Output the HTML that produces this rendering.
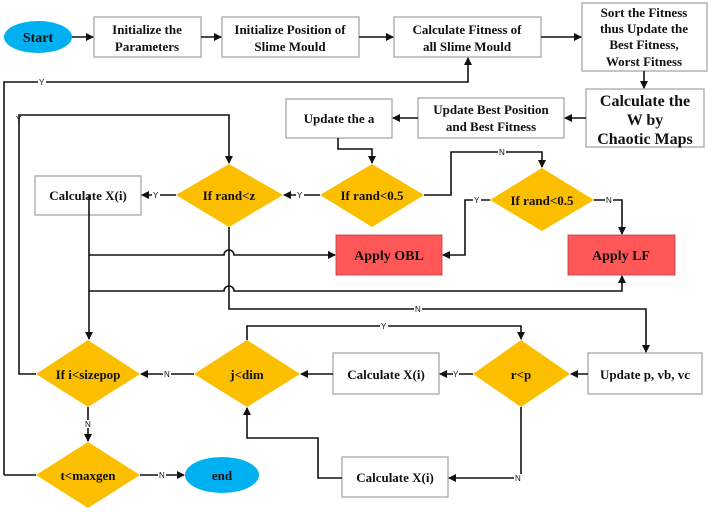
<!DOCTYPE html>
<html><head><meta charset="utf-8"><style>
html,body{margin:0;padding:0;background:#fff}
svg{display:block}
text{font-family:"Liberation Serif",serif;font-weight:bold;fill:#111}
.b{fill:#fff;stroke:#a0a0a0;stroke-width:1.2}
.d{fill:#fcbf00;stroke:none}
.l{fill:none;stroke:#111;stroke-width:1.6}
.s{font-family:"Liberation Sans",sans-serif;font-size:8px;font-weight:normal}
</style></head><body>
<svg width="708" height="512" viewBox="0 0 708 512" xmlns="http://www.w3.org/2000/svg">
<defs><marker id="a" markerWidth="8" markerHeight="8" refX="7" refY="4" orient="auto" markerUnits="userSpaceOnUse"><path d="M0,0 L8,4 L0,8 z" fill="#111"/></marker></defs>

<!-- shapes -->
<ellipse cx="38" cy="37" rx="34" ry="16" fill="#00b0f0"/>
<rect class="b" x="94" y="17" width="107" height="40"/>
<rect class="b" x="222" y="17" width="137" height="40"/>
<rect class="b" x="394" y="17" width="147" height="40"/>
<rect class="b" x="582" y="3" width="125" height="68"/>
<rect class="b" x="586" y="89" width="118" height="58"/>
<rect class="b" x="418" y="98" width="146" height="40"/>
<rect class="b" x="286" y="99" width="106" height="39"/>
<rect class="b" x="35" y="176" width="106" height="39"/>
<polygon class="d" points="229,164 283,195 229,227 176,195"/>
<polygon class="d" points="372,164 424,195 372,227 320,195"/>
<polygon class="d" points="542,168 594,200 542,231 490,200"/>
<rect x="336" y="235" width="106" height="40" fill="#ff5757" stroke="#b04040" stroke-width="0.8"/>
<rect x="568" y="235" width="107" height="40" fill="#ff5757" stroke="#b04040" stroke-width="0.8"/>
<polygon class="d" points="88,340 140,374 88,407 36,374"/>
<polygon class="d" points="247,340 300,374 247,407 194,374"/>
<rect class="b" x="333" y="353" width="106" height="41"/>
<polygon class="d" points="521,340 570,374 521,407 473,374"/>
<rect class="b" x="588" y="353" width="114" height="41"/>
<rect class="b" x="342" y="457" width="106" height="40"/>
<polygon class="d" points="88,442 140,475 88,508 36,475"/>
<ellipse cx="222" cy="475" rx="37" ry="18" fill="#00b0f0"/>

<!-- connectors -->
<path class="l" d="M72,37 H93" marker-end="url(#a)"/>
<path class="l" d="M201,37 H221" marker-end="url(#a)"/>
<path class="l" d="M359,37 H393" marker-end="url(#a)"/>
<path class="l" d="M541,37 H581" marker-end="url(#a)"/>
<path class="l" d="M644,71 V88" marker-end="url(#a)"/>
<path class="l" d="M586,118 H565" marker-end="url(#a)"/>
<path class="l" d="M418,118 H393" marker-end="url(#a)"/>
<path class="l" d="M338,138 V149 H372 V163" marker-end="url(#a)"/>
<path class="l" d="M320,195 H284" marker-end="url(#a)"/>
<path class="l" d="M176,195 H142" marker-end="url(#a)"/>
<path class="l" d="M424,195 H451 V152 H542 V167" marker-end="url(#a)"/>
<path class="l" d="M490,200 H465 V255 H443" marker-end="url(#a)"/>
<path class="l" d="M594,200 H622 V234" marker-end="url(#a)"/>
<path class="l" d="M4,475 H36 M4,475 V82 H468 V58" marker-end="url(#a)"/>
<path class="l" d="M36,374 H19 V115 H229 V163" marker-end="url(#a)"/>
<path class="l" d="M229,227 V309 H646 V352" marker-end="url(#a)"/>
<path class="l" d="M89,195 V339" marker-end="url(#a)"/>
<path class="l" d="M89,255 H224 A5,5 0 0 1 234,255 H335" marker-end="url(#a)"/>
<path class="l" d="M89,291 H224 A5,5 0 0 1 234,291 H622 V276" marker-end="url(#a)"/>
<path class="l" d="M588,374 H571" marker-end="url(#a)"/>
<path class="l" d="M473,374 H440" marker-end="url(#a)"/>
<path class="l" d="M333,374 H301" marker-end="url(#a)"/>
<path class="l" d="M194,374 H141" marker-end="url(#a)"/>
<path class="l" d="M247,340 V326 H521 V339" marker-end="url(#a)"/>
<path class="l" d="M521,407 V478 H449" marker-end="url(#a)"/>
<path class="l" d="M342,478 H318 V438 H247 V408" marker-end="url(#a)"/>
<path class="l" d="M88,407 V441" marker-end="url(#a)"/>
<path class="l" d="M140,475 H184" marker-end="url(#a)"/>

<!-- labels on lines -->
<g class="s">
<rect x="38" y="78" width="8" height="8" fill="#fff"/><text class="s" x="39" y="85">Y</text>
<text class="s" x="16" y="122">Y</text>
<rect x="152" y="191" width="8" height="8" fill="#fff"/><text class="s" x="153" y="198">Y</text>
<rect x="296" y="191" width="8" height="8" fill="#fff"/><text class="s" x="297" y="198">Y</text>
<rect x="498" y="148" width="8" height="8" fill="#fff"/><text class="s" x="499" y="155">N</text>
<rect x="473" y="196" width="8" height="8" fill="#fff"/><text class="s" x="474" y="203">Y</text>
<rect x="605" y="196" width="8" height="8" fill="#fff"/><text class="s" x="606" y="203">N</text>
<rect x="414" y="305" width="8" height="8" fill="#fff"/><text class="s" x="415" y="312">N</text>
<rect x="380" y="322" width="8" height="8" fill="#fff"/><text class="s" x="381" y="329">Y</text>
<rect x="453" y="370" width="6" height="8" fill="#fff"/><text class="s" x="453" y="377">Y</text>
<rect x="163" y="370" width="8" height="8" fill="#fff"/><text class="s" x="164" y="377">N</text>
<rect x="84" y="420" width="8" height="8" fill="#fff"/><text class="s" x="85" y="427">N</text>
<rect x="158" y="471" width="8" height="8" fill="#fff"/><text class="s" x="159" y="478">N</text>
<rect x="514" y="474" width="8" height="8" fill="#fff"/><text class="s" x="515" y="481">N</text>
</g>

<!-- node text -->
<g font-size="13" text-anchor="middle">
<text x="38" y="42" font-size="14">Start</text>
<text x="147" y="34">Initialize the</text>
<text x="147" y="51">Parameters</text>
<text x="290" y="34">Initialize Position of</text>
<text x="290" y="51">Slime Mould</text>
<text x="467" y="34">Calculate Fitness of</text>
<text x="467" y="51">all Slime Mould</text>
<text x="644" y="17">Sort the Fitness</text>
<text x="644" y="33">thus Update the</text>
<text x="644" y="49">Best Fitness,</text>
<text x="644" y="66">Worst Fitness</text>
<text x="645" y="106" font-size="16">Calculate the</text>
<text x="645" y="125" font-size="16">W by</text>
<text x="645" y="144" font-size="16">Chaotic Maps</text>
<text x="491" y="114">Update Best Position</text>
<text x="491" y="131">and Best Fitness</text>
<text x="339" y="123">Update the a</text>
<text x="88" y="200">Calculate X(i)</text>
<text x="229" y="200">If rand&lt;z</text>
<text x="372" y="200">If rand&lt;0.5</text>
<text x="542" y="205">If rand&lt;0.5</text>
<text x="389" y="260" font-size="14">Apply OBL</text>
<text x="621" y="260" font-size="14">Apply LF</text>
<text x="88" y="379">If i&lt;sizepop</text>
<text x="247" y="379">j&lt;dim</text>
<text x="386" y="379">Calculate X(i)</text>
<text x="521" y="379">r&lt;p</text>
<text x="645" y="379">Update p, vb, vc</text>
<text x="395" y="482">Calculate X(i)</text>
<text x="88" y="480">t&lt;maxgen</text>
<text x="222" y="480">end</text>
</g>
</svg>
</body></html>
